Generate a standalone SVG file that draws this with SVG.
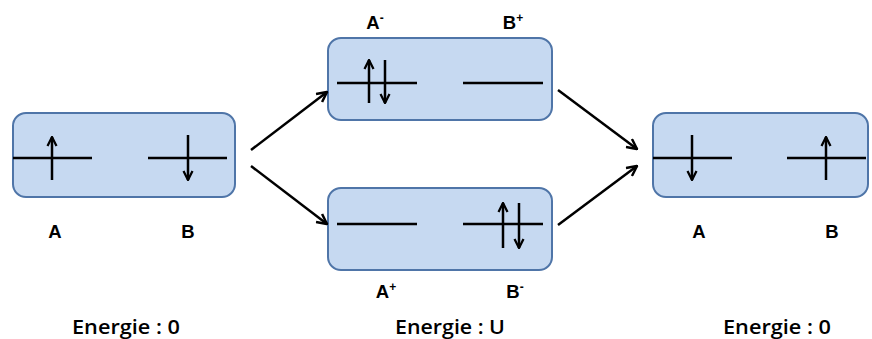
<svg xmlns="http://www.w3.org/2000/svg" width="872" height="339" viewBox="0 0 872 339">
<defs>
<marker id="ah" viewBox="0 0 10 10" refX="9" refY="5" markerWidth="5" markerHeight="5" orient="auto" markerUnits="strokeWidth">
<path d="M1,1 L9,5 L1,9" fill="none" stroke="#000" stroke-width="2"/>
</marker>
<marker id="sp" viewBox="0 0 10 10" refX="9" refY="5" markerWidth="4.5" markerHeight="4.5" orient="auto" markerUnits="strokeWidth">
<path d="M1,1 L9,5 L1,9" fill="none" stroke="#000" stroke-width="2"/>
</marker>
<style>
.box{fill:#c6d9f1;stroke:#4f75a8;stroke-width:2}
.lvl{stroke:#000;stroke-width:2.5;fill:none}
.spin{stroke:#000;stroke-width:2.5;fill:none;marker-end:url(#sp)}
.conn{stroke:#000;stroke-width:2.5;fill:none;marker-end:url(#ah)}
.lab{font-family:"Liberation Sans",Arial,sans-serif;font-weight:bold;font-size:18.5px;fill:#000;text-anchor:middle}
.sup{font-size:12px}
.en{font-family:"Open Sans","Liberation Sans",sans-serif;font-weight:600;font-size:20px;fill:#000;text-anchor:middle}
</style>
</defs>
<g id="state-left">
<rect class="box" x="13" y="113" width="222" height="84" rx="13"/>
<line class="lvl" x1="13" y1="158" x2="92" y2="158"/>
<line class="lvl" x1="148" y1="158" x2="227" y2="158"/>
<line class="spin" x1="52" y1="180" x2="52" y2="137"/>
<line class="spin" x1="188" y1="135" x2="188" y2="180"/>
<text class="lab" x="55" y="238">A</text>
<text class="lab" x="188" y="238">B</text>
<text class="en" x="126" y="334" textLength="108" lengthAdjust="spacingAndGlyphs">Energie : 0</text>
</g>
<g id="state-top">
<rect class="box" x="328" y="38" width="224" height="82" rx="13"/>
<line class="lvl" x1="337" y1="83" x2="417" y2="83"/>
<line class="lvl" x1="463" y1="83" x2="543" y2="83"/>
<line class="spin" x1="369" y1="103" x2="369" y2="60"/>
<line class="spin" x1="385" y1="60" x2="385" y2="103"/>
<text class="lab" x="375" y="29">A<tspan class="sup" dy="-7">-</tspan></text>
<text class="lab" x="513" y="29">B<tspan class="sup" dy="-7">+</tspan></text>
</g>
<g id="state-bottom">
<rect class="box" x="328" y="188" width="224" height="82" rx="13"/>
<line class="lvl" x1="337" y1="224" x2="417" y2="224"/>
<line class="lvl" x1="463" y1="224" x2="543" y2="224"/>
<line class="spin" x1="503" y1="248" x2="503" y2="203"/>
<line class="spin" x1="519" y1="203" x2="519" y2="248"/>
<text class="lab" x="386" y="298">A<tspan class="sup" dy="-7">+</tspan></text>
<text class="lab" x="515" y="298">B<tspan class="sup" dy="-7">-</tspan></text>
<text class="en" x="450" y="334" textLength="110" lengthAdjust="spacingAndGlyphs">Energie : U</text>
</g>
<g id="state-right">
<rect class="box" x="653" y="113" width="215" height="84" rx="13"/>
<line class="lvl" x1="653" y1="158" x2="732" y2="158"/>
<line class="lvl" x1="787" y1="158" x2="866" y2="158"/>
<line class="spin" x1="692" y1="135" x2="692" y2="180"/>
<line class="spin" x1="826" y1="180" x2="826" y2="137"/>
<text class="lab" x="699" y="238">A</text>
<text class="lab" x="832" y="238">B</text>
<text class="en" x="777" y="334" textLength="108" lengthAdjust="spacingAndGlyphs">Energie : 0</text>
</g>
<g id="connectors">
<line class="conn" x1="251" y1="150" x2="327" y2="92"/>
<line class="conn" x1="251" y1="166" x2="327" y2="224"/>
<line class="conn" x1="558" y1="90" x2="637" y2="149"/>
<line class="conn" x1="558" y1="225" x2="637" y2="166"/>
</g>
</svg>
